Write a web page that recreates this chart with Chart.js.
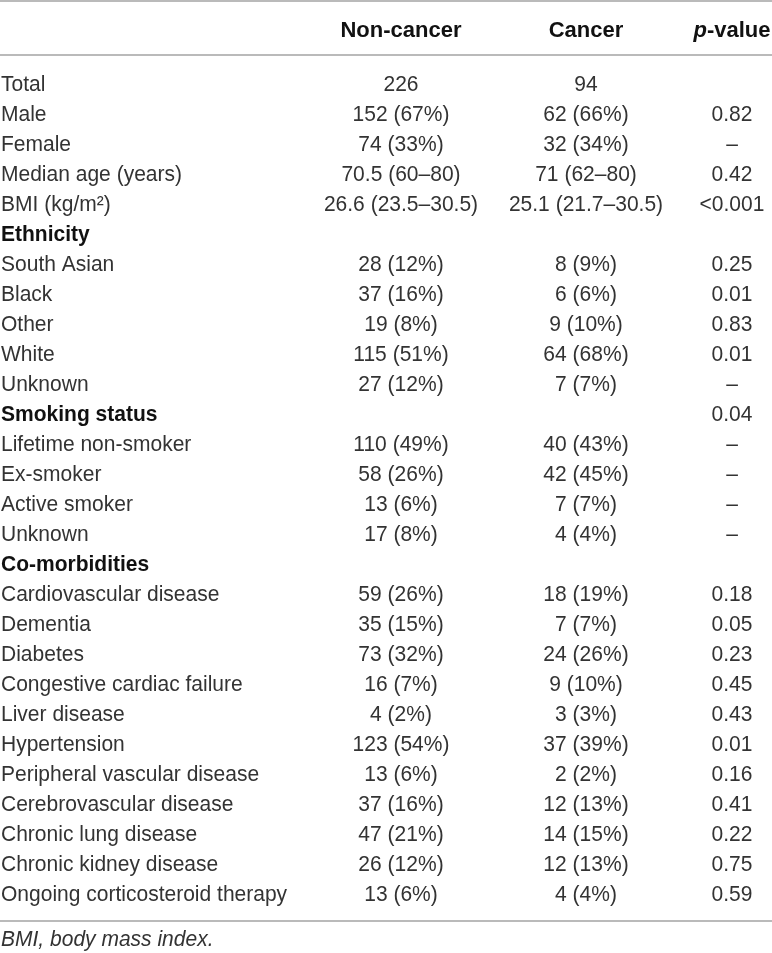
<!DOCTYPE html>
<html><head><meta charset="utf-8">
<script src="https://cdn.jsdelivr.net/npm/chart.js@4.4.1/dist/chart.umd.min.js"></script>
<style>html,body{margin:0;padding:0;background:#fff;overflow:hidden}canvas{display:block}</style>
</head><body>
<canvas id="c" width="772" height="953"></canvas>
<script>
// ---- data ----
const headers = ['Non-cancer', 'Cancer', 'p-value'];
const rowLabels = [
  'Total', 'Male', 'Female', 'Median age (years)', 'BMI (kg/m\u00B2)',
  'Ethnicity', 'South Asian', 'Black', 'Other', 'White', 'Unknown',
  'Smoking status', 'Lifetime non-smoker', 'Ex-smoker', 'Active smoker', 'Unknown',
  'Co-morbidities', 'Cardiovascular disease', 'Dementia', 'Diabetes',
  'Congestive cardiac failure', 'Liver disease', 'Hypertension',
  'Peripheral vascular disease', 'Cerebrovascular disease', 'Chronic lung disease',
  'Chronic kidney disease', 'Ongoing corticosteroid therapy'
];
const sectionRows = ['Ethnicity', 'Smoking status', 'Co-morbidities'];
const nonCancer = [
  '226', '152 (67%)', '74 (33%)', '70.5 (60\u201380)', '26.6 (23.5\u201330.5)',
  '', '28 (12%)', '37 (16%)', '19 (8%)', '115 (51%)', '27 (12%)',
  '', '110 (49%)', '58 (26%)', '13 (6%)', '17 (8%)',
  '', '59 (26%)', '35 (15%)', '73 (32%)', '16 (7%)', '4 (2%)', '123 (54%)',
  '13 (6%)', '37 (16%)', '47 (21%)', '26 (12%)', '13 (6%)'
];
const cancer = [
  '94', '62 (66%)', '32 (34%)', '71 (62\u201380)', '25.1 (21.7\u201330.5)',
  '', '8 (9%)', '6 (6%)', '9 (10%)', '64 (68%)', '7 (7%)',
  '', '40 (43%)', '42 (45%)', '7 (7%)', '4 (4%)',
  '', '18 (19%)', '7 (7%)', '24 (26%)', '9 (10%)', '3 (3%)', '37 (39%)',
  '2 (2%)', '12 (13%)', '14 (15%)', '12 (13%)', '4 (4%)'
];
const pValues = [
  '', '0.82', '\u2013', '0.42', '<0.001',
  '', '0.25', '0.01', '0.83', '0.01', '\u2013',
  '0.04', '\u2013', '\u2013', '\u2013', '\u2013',
  '', '0.18', '0.05', '0.23', '0.45', '0.43', '0.01',
  '0.16', '0.41', '0.22', '0.75', '0.59'
];
const footnote = 'BMI, body mass index.';

// ---- layout (scale units) ----
const LABEL_X = 1;
const COL_X = [401, 586, 732];
const HEADER_Y = -1.8;
const TOP_RULE_Y = -2.73;
const HEAD_RULE_Y = -0.93;
const BOTTOM_RULE_Y = 27.93;
const FOOT_Y = 28.5;

const FONT = '"Liberation Sans", Arial, Helvetica, sans-serif';
const TEXT_COLOR = '#333333';
const RULE_COLOR = '#a3a3a3';

function cellData(values, x) {
  return values.map((t, i) => ({ x: x, y: i, text: t })).filter(d => d.text !== '');
}

const datasets = [
  { label: 'rows', data: cellData(rowLabels, LABEL_X), align: 'left' },
  { label: headers[0], data: cellData(nonCancer, COL_X[0]), align: 'center' },
  { label: headers[1], data: cellData(cancer, COL_X[1]), align: 'center' },
  { label: headers[2], data: cellData(pValues, COL_X[2]), align: 'center' }
].map(d => Object.assign(d, { pointRadius: 0, pointHoverRadius: 0, showLine: false }));

function textAt(ctx, str, x, y, size, font, color, align, sx) {
  ctx.save();
  ctx.font = font;
  ctx.fillStyle = color;
  ctx.textAlign = align;
  ctx.textBaseline = 'alphabetic';
  ctx.translate(x, y + size * 0.358);
  ctx.scale(sx || 1, 1);
  ctx.fillText(str, 0, 0);
  ctx.restore();
}

const tablePlugin = {
  id: 'table',
  afterDatasetsDraw(chart) {
    const ctx = chart.ctx;
    const xs = chart.scales.x, ys = chart.scales.y;
    ctx.save();
    // rules
    ctx.strokeStyle = RULE_COLOR;
    ctx.lineWidth = 1.5;
    [TOP_RULE_Y, HEAD_RULE_Y, BOTTOM_RULE_Y].forEach(v => {
      const py = ys.getPixelForValue(v);
      ctx.beginPath();
      ctx.moveTo(xs.getPixelForValue(0), py);
      ctx.lineTo(xs.getPixelForValue(772), py);
      ctx.stroke();
    });
    // headers
    const hy = ys.getPixelForValue(HEADER_Y);
    const hs = 22;
    textAt(ctx, headers[0], xs.getPixelForValue(COL_X[0]), hy, hs, `bold ${hs}px ${FONT}`, '#111', 'center');
    textAt(ctx, headers[1], xs.getPixelForValue(COL_X[1]), hy, hs, `bold ${hs}px ${FONT}`, '#111', 'center');
    // p-value header: italic "p" + "-value"
    const pi = headers[2].indexOf('-');
    const part1 = headers[2].slice(0, pi), part2 = headers[2].slice(pi);
    ctx.font = `italic bold ${hs}px ${FONT}`;
    const w1 = ctx.measureText(part1).width;
    ctx.font = `bold ${hs}px ${FONT}`;
    const w2 = ctx.measureText(part2).width;
    const startX = xs.getPixelForValue(COL_X[2]) - (w1 + w2) / 2;
    textAt(ctx, part1, startX, hy, hs, `italic bold ${hs}px ${FONT}`, '#111', 'left');
    textAt(ctx, part2, startX + w1, hy, hs, `bold ${hs}px ${FONT}`, '#111', 'left');
    // cells
    const fs = 22, sx = 0.955;
    chart.data.datasets.forEach((ds, di) => {
      const meta = chart.getDatasetMeta(di);
      meta.data.forEach((el, j) => {
        const d = ds.data[j];
        const isSection = di === 0 && sectionRows.includes(d.text);
        const font = isSection ? `bold ${fs}px ${FONT}` : `${fs}px ${FONT}`;
        textAt(ctx, d.text, el.x, el.y, fs, font, isSection ? '#111' : TEXT_COLOR, ds.align, sx);
      });
    });
    // footnote
    textAt(ctx, footnote, xs.getPixelForValue(LABEL_X), ys.getPixelForValue(FOOT_Y), fs,
      `italic ${fs}px ${FONT}`, TEXT_COLOR, 'left', sx);
    ctx.restore();
  }
};

new Chart(document.getElementById('c'), {
  type: 'scatter',
  data: { datasets },
  options: {
    responsive: false,
    animation: false,
    events: [],
    layout: { padding: 0 },
    scales: {
      x: { type: 'linear', display: false, min: 0, max: 772 },
      y: { type: 'linear', display: false, reverse: true, min: -2.7667, max: 29.0 }
    },
    plugins: { legend: { display: false }, tooltip: { enabled: false } }
  },
  plugins: [tablePlugin]
});
</script>
</body></html>
